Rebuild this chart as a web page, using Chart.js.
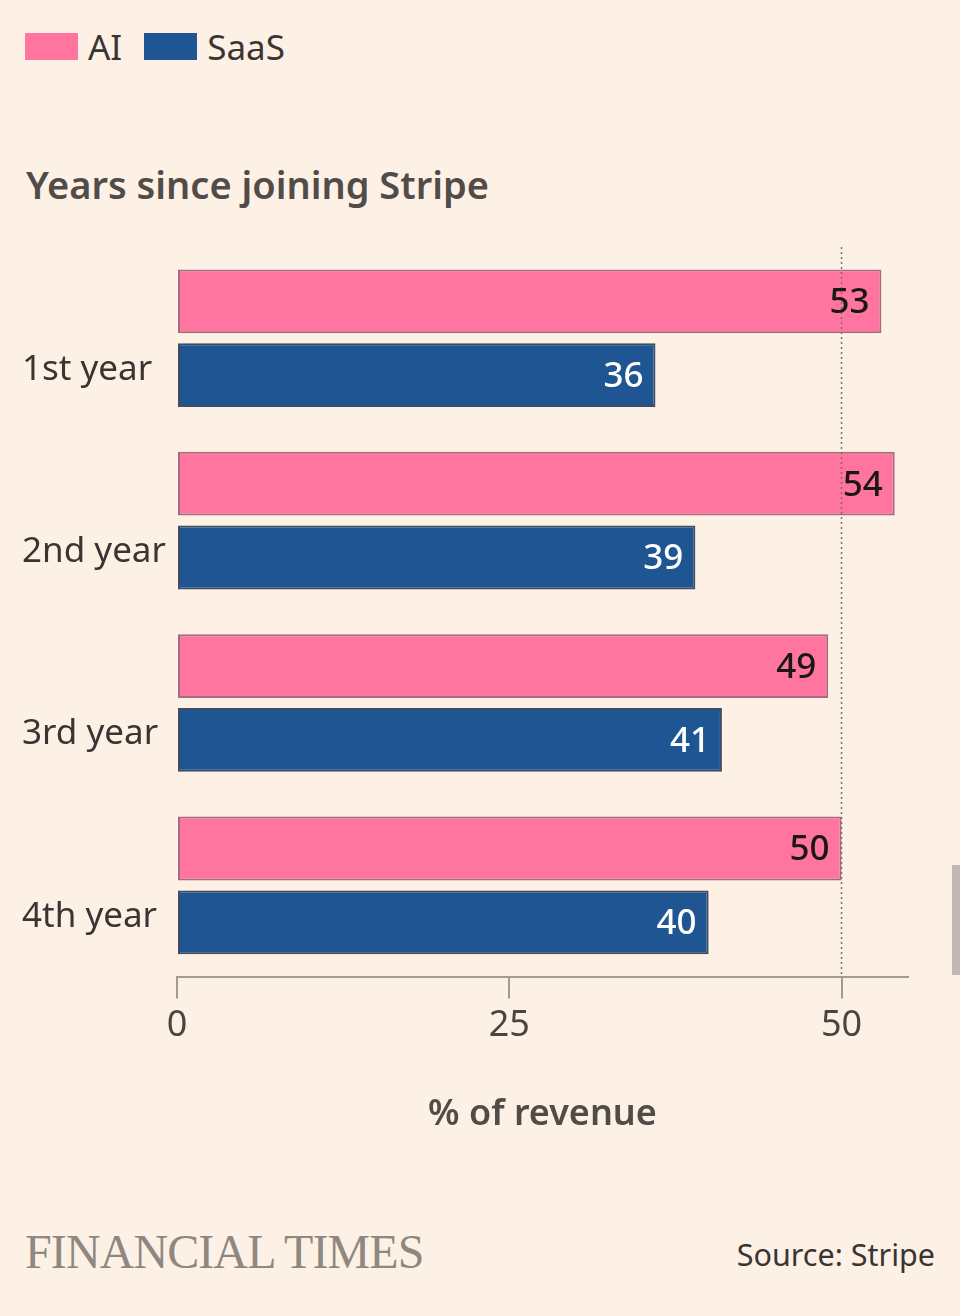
<!DOCTYPE html>
<html>
<head>
<meta charset="utf-8">
<script src="https://cdn.jsdelivr.net/npm/chart.js@4"></script>
<style>
  body { margin: 0; background: #fdf1e6; width: 960px; height: 1316px; overflow: hidden; font-family: 'Noto Sans', sans-serif; }
  #wrap { position: relative; width: 960px; height: 1316px; }
  .legend { position: absolute; top: 23px; left: 25px; display: flex; align-items: center; font-size: 35px; color: #3a3532; }
  .legend .box { display: inline-block; width: 53px; height: 27px; margin-right: 10px; }
  .legend .item { display: flex; align-items: center; margin-right: 22px; }
  .title { position: absolute; top: 158px; left: 26px; font-size: 38px; font-weight: 600; color: #524c48; }
  .brand { position: absolute; top: 1224px; left: 25px; font-family: 'Liberation Serif', serif; font-size: 48px; color: #8f8780; letter-spacing: -0.9px; }
  .source { position: absolute; top: 1233px; right: 25px; font-size: 30.5px; color: #3a3532; }
  .scroll { position: absolute; left: 952px; top: 865px; width: 8px; height: 110px; background: #c2bab2; }
  canvas { position: absolute; left: 0; top: 200px; }
</style>
</head>
<body>
<div id="wrap">
  <div class="legend">
    <div class="item"><span class="box" style="background:#ff75a0"></span>AI</div>
    <div class="item"><span class="box" style="background:#1e5592"></span>SaaS</div>
  </div>
  <div class="title">Years since joining Stripe</div>
  <canvas id="chart" width="960" height="980"></canvas>
  <div class="brand">FINANCIAL TIMES</div>
  <div class="source">Source: Stripe</div>
  <div class="scroll"></div>
</div>
<script>
// Dados do gráfico
const categories = ['1st year', '2nd year', '3rd year', '4th year'];
const aiValues = [53, 54, 49, 50];
const saasValues = [36, 39, 41, 40];
const xTicks = [0, 25, 50];
const refLine = 50;

// Linha pontilhada em 50 e rótulos dos valores
const valueLabels = {
    id: 'valueLabels',
    afterDatasetsDraw(chart) {
        const ctx = chart.ctx;
        const area = chart.chartArea;
        const x = chart.scales.x.getPixelForValue(refLine);
        ctx.save();
        ctx.strokeStyle = '#77706b';
        ctx.lineWidth = 1.5;
        ctx.setLineDash([2, 3]);
        ctx.beginPath();
        ctx.moveTo(x, area.top);
        ctx.lineTo(x, area.bottom);
        ctx.stroke();
        ctx.setLineDash([]);

        ctx.font = '500 35px "Noto Sans"';
        ctx.textAlign = 'right';
        ctx.textBaseline = 'middle';
        chart.data.datasets.forEach(function(ds, i) {
            const meta = chart.getDatasetMeta(i);
            meta.data.forEach(function(bar, j) {
                ctx.fillStyle = i === 0 ? '#1a1715' : '#ffffff';
                ctx.fillText(ds.data[j], bar.x - 12, bar.y + 2);
            });
        });
        ctx.restore();
    }
};

const ctx = document.getElementById('chart').getContext('2d');
new Chart(ctx, {
    type: 'bar',
    data: {
        labels: categories,
        datasets: [
            {
                label: 'AI',
                data: aiValues,
                backgroundColor: '#ff75a0',
                borderColor: '#a86a80',
                borderWidth: 2,
                borderSkipped: false,
                categoryPercentage: 0.809,
                barPercentage: 0.865
            },
            {
                label: 'SaaS',
                data: saasValues,
                backgroundColor: '#1e5592',
                borderColor: '#3f4d62',
                borderWidth: 2,
                borderSkipped: false,
                categoryPercentage: 0.809,
                barPercentage: 0.865
            }
        ]
    },
    options: {
        indexAxis: 'y',
        responsive: false,
        animation: false,
        layout: { padding: { left: 22, right: 52, top: 47, bottom: 44 } },
        scales: {
            x: {
                min: 0,
                max: 55,
                afterBuildTicks: function(scale) {
                    scale.ticks = xTicks.map(v => ({ value: v }));
                },
                grid: { drawOnChartArea: false, drawTicks: true, tickLength: 22, color: '#a39a92', lineWidth: 2 },
                border: { display: true, color: '#a39a92', width: 2 },
                ticks: { color: '#4a4541', font: { family: 'Noto Sans', size: 36 }, padding: 6, maxRotation: 0 },
                title: {
                    display: true,
                    text: '% of revenue',
                    color: '#524c48',
                    font: { family: 'Noto Sans', size: 36, weight: '600' },
                    padding: { top: 39, bottom: 0 }
                }
            },
            y: {
                afterFit: function(scale) {
                    scale.width = 155;
                    scale.paddingTop = 0;
                    scale.paddingBottom = 0;
                },
                grid: { display: false },
                border: { display: false },
                ticks: {
                    crossAlign: 'far',
                    color: '#3a3532',
                    font: { family: 'Noto Sans', size: 35, lineHeight: 1.8 },
                    callback: function(value) { return ['', categories[value]]; }
                }
            }
        },
        plugins: {
            legend: { display: false },
            tooltip: { enabled: false }
        }
    },
    plugins: [valueLabels]
});
</script>
</body>
</html>
